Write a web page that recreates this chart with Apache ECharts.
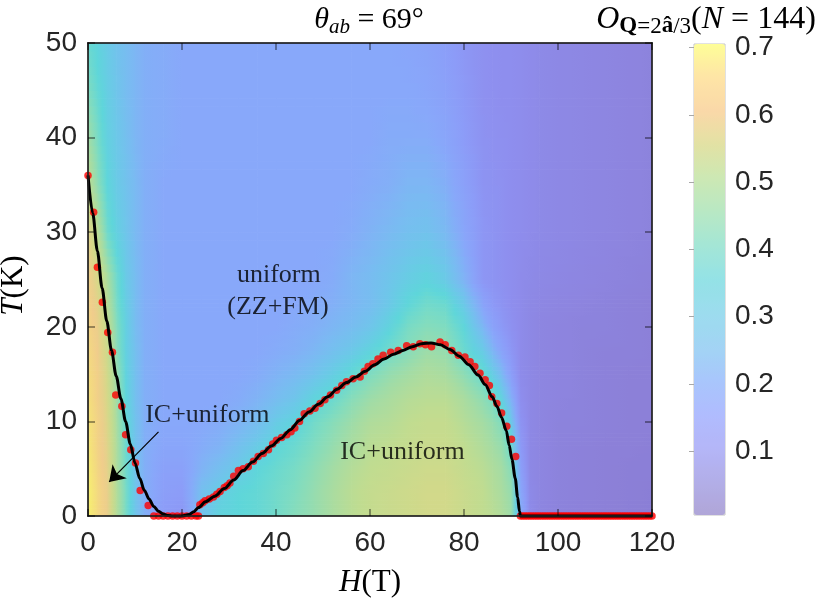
<!DOCTYPE html>
<html>
<head>
<meta charset="utf-8">
<title>theta_ab = 69</title>
<script src="https://cdn.jsdelivr.net/npm/echarts@6.0.0/dist/echarts.min.js"></script>
<style>
body{margin:0;background:#fff;}
#main{width:830px;height:606px;}
</style>
</head>
<body>
<div id="main"></div>
<script>
/* order parameter O(H,T) at these nodes */
var gridH = [0,2,4,6,8,10,12,16,20,24,28,32,36,40,44,48,52,56,60,64,68,72,76,80,84,86,88,90,92,94,96,100,105,110,115,120];
var gridT = [0,2.5,5,7.5,10,12.5,15,17.5,20,22.5,25,30,35,40,45,50];
var orderO = [
	[0.70,0.64,0.59,0.48,0.39,0.29,0.22, 0.15,0.13,0.27,0.34,0.35,0.36,0.38,0.41,0.43,0.46,0.49,0.51,0.52,0.53,0.54,0.54,0.52,0.50, 0.49,0.47,0.44,0.22,0.09,0.07, 0.06,0.055,0.05,0.045,0.04],
	[0.70,0.64,0.59,0.48,0.39,0.29,0.22, 0.16,0.15,0.27,0.32,0.35,0.36,0.38,0.40,0.43,0.46,0.49,0.51,0.52,0.53,0.54,0.54,0.52,0.50, 0.48,0.46,0.43,0.20,0.085,0.07, 0.06,0.055,0.05,0.045,0.04],
	[0.69,0.63,0.58,0.47,0.38,0.28,0.22, 0.17,0.17,0.23,0.27,0.31,0.35,0.37,0.39,0.42,0.45,0.48,0.50,0.51,0.52,0.53,0.53,0.51,0.49, 0.47,0.45,0.41,0.17,0.08,0.07, 0.06,0.055,0.05,0.045,0.045],
	[0.68,0.62,0.57,0.47,0.37,0.28,0.22, 0.19,0.19,0.21,0.23,0.27,0.31,0.35,0.37,0.40,0.43,0.46,0.49,0.50,0.51,0.52,0.52,0.50,0.47, 0.45,0.43,0.37,0.14,0.08,0.07, 0.06,0.055,0.05,0.05,0.045],
	[0.67,0.62,0.56,0.46,0.36,0.28,0.22, 0.20,0.20,0.20,0.21,0.23,0.26,0.31,0.34,0.38,0.41,0.44,0.47,0.48,0.50,0.51,0.51,0.48,0.45, 0.43,0.40,0.30,0.12,0.08,0.07, 0.06,0.06,0.055,0.05,0.05],
	[0.66,0.61,0.55,0.45,0.35,0.27,0.22, 0.20,0.20,0.20,0.20,0.21,0.23,0.26,0.29,0.34,0.37,0.41,0.44,0.46,0.48,0.49,0.49,0.46,0.42, 0.39,0.33,0.22,0.10,0.08,0.07, 0.065,0.06,0.055,0.05,0.05],
	[0.65,0.61,0.54,0.44,0.34,0.27,0.22, 0.20,0.20,0.20,0.20,0.20,0.21,0.23,0.25,0.28,0.32,0.36,0.40,0.43,0.45,0.47,0.46,0.42,0.37, 0.32,0.25,0.16,0.09,0.08,0.07, 0.065,0.06,0.055,0.05,0.05],
	[0.64,0.60,0.53,0.42,0.33,0.27,0.22, 0.20,0.20,0.20,0.20,0.20,0.20,0.21,0.22,0.24,0.27,0.30,0.34,0.38,0.41,0.44,0.43,0.37,0.31, 0.24,0.18,0.13,0.09,0.08,0.07, 0.065,0.06,0.055,0.055,0.05],
	[0.63,0.59,0.51,0.41,0.33,0.26,0.22, 0.20,0.20,0.20,0.20,0.20,0.20,0.20,0.21,0.22,0.24,0.26,0.29,0.34,0.39,0.41,0.40,0.35,0.24, 0.18,0.14,0.11,0.09,0.08,0.07, 0.065,0.06,0.06,0.055,0.05],
	[0.62,0.57,0.49,0.39,0.32,0.26,0.22, 0.20,0.20,0.20,0.20,0.20,0.20,0.20,0.20,0.21,0.22,0.24,0.26,0.30,0.35,0.38,0.37,0.30,0.18, 0.14,0.12,0.10,0.09,0.08,0.075, 0.07,0.065,0.06,0.055,0.05],
	[0.61,0.55,0.47,0.38,0.31,0.26,0.22, 0.20,0.20,0.20,0.20,0.20,0.20,0.20,0.20,0.20,0.21,0.24,0.26,0.29,0.32,0.34,0.31,0.23,0.13, 0.12,0.11,0.10,0.09,0.085,0.08, 0.075,0.07,0.065,0.06,0.055],
	[0.57,0.49,0.38,0.33,0.29,0.25,0.22, 0.20,0.20,0.20,0.20,0.20,0.20,0.20,0.20,0.20,0.20,0.21,0.23,0.25,0.27,0.28,0.25,0.19,0.13, 0.12,0.11,0.10,0.095,0.09,0.085, 0.08,0.075,0.07,0.065,0.06],
	[0.50,0.42,0.35,0.31,0.28,0.25,0.22, 0.20,0.20,0.20,0.20,0.20,0.20,0.20,0.20,0.20,0.20,0.20,0.21,0.22,0.24,0.24,0.22,0.17,0.12, 0.115,0.11,0.10,0.095,0.09,0.085, 0.08,0.075,0.07,0.065,0.06],
	[0.45,0.39,0.33,0.30,0.27,0.24,0.22, 0.21,0.20,0.20,0.20,0.20,0.20,0.20,0.20,0.20,0.20,0.20,0.20,0.21,0.21,0.21,0.19,0.15,0.115, 0.11,0.105,0.10,0.095,0.09,0.085, 0.08,0.075,0.07,0.065,0.06],
	[0.40,0.36,0.32,0.29,0.26,0.24,0.22, 0.21,0.20,0.20,0.20,0.20,0.20,0.20,0.20,0.20,0.20,0.20,0.20,0.20,0.20,0.19,0.17,0.14,0.11, 0.105,0.10,0.10,0.095,0.09,0.085, 0.08,0.075,0.07,0.065,0.06],
	[0.37,0.34,0.31,0.28,0.26,0.24,0.22, 0.21,0.20,0.20,0.20,0.20,0.20,0.20,0.20,0.20,0.20,0.20,0.20,0.20,0.19,0.18,0.16,0.13,0.11, 0.105,0.10,0.10,0.095,0.09,0.085, 0.08,0.075,0.07,0.065,0.06]
];

/* red dots: transition points */
var dotsLeft = [[0,36],[1.2,32.1],[2.0,26.3],[3.05,22.6],[4.2,19.4],[5.2,17.3],[5.9,12.8],[7.2,11.6],[8.0,8.6],[9.1,7.0],[10.1,5.6],[11.1,2.7],[12.8,1.1]];
var dotsZeroLowH = [14,15,16,17,18,19,20,21,22,23,23.5];
var dotsRight = [[23.8,1.2],[24.4,1.4],[24.9,1.6],[25.8,1.8],[26.7,2.0],[27.4,2.3],[28.1,2.6],[29.0,3.0],[29.6,3.2],[30.2,3.5],[31.0,4.2],[32.0,4.8],[33.0,5.0],[34.1,5.2],[35.2,5.8],[36.2,6.3],[37.3,6.6],[38.4,7.0],[39.3,7.6],[40.1,8.0],[41.2,8.3],[42.3,8.6],[43.2,8.9],[44.0,9.3],[45.0,10.0],[46.0,10.8],[47.2,11.1],[48.3,11.4],[49.4,11.9],[50.4,12.3],[51.6,12.8],[52.9,13.3],[54.0,13.8],[55.0,14.2],[56.4,14.5],[57.9,14.7],[58.8,15.3],[59.6,15.8],[60.6,16.1],[61.7,16.6],[62.8,17.0],[64.4,17.3],[66.0,17.5],[67.8,18.0],[69.2,17.9],[70.6,18.2],[71.8,18.1],[73.1,17.9],[74.9,18.4],[76.0,18.1],[77.4,17.5],[78.8,17.0],[80.2,16.8],[81.3,16.3],[82.3,15.8],[83.4,15.1],[84.5,14.4],[85.4,13.8],[85.9,12.6],[87.0,11.9],[88.0,10.9],[89.1,9.5],[90.1,8.1],[91.0,6.3]];
var dotsZeroHighH = [92,92.5,93,93.5,94,94.5,95,95.5,96,96.5,97,97.5,98,98.5,99,99.5,100,100.5,101,101.5,102,102.5,103,103.5,104,104.5,105,105.5,106,106.5,107,107.5,108,108.5,109,109.5,110,110.5,111,111.5,112,112.5,113,113.5,114,114.5,115,115.5,116,116.5,117,117.5,118,118.5,119,119.5,120];

/* black phase boundary */
var boundaryLine = [[0,36],[1,32],[2,28],[3,24.1],[4,20.6],[5,17.5],[6,14.8],[7,12.4],[8,10.0],[9,7.6],[10,5.6],[11,4.0],[12,2.7],[13,1.8],[14,1.0],[15,0.5],[16,0.2],[17,0.06],[18,0],[20,0],[21.5,0.15],[22.5,0.45],[23.5,0.9],[25,1.5],[27,2.1],[29,2.9],[31,3.8],[33,4.8],[35,5.7],[37,6.6],[39,7.4],[41,8.2],[43,9.1],[45,10.1],[47,11.0],[49,11.8],[51,12.6],[53,13.4],[55,14.1],[57,14.7],[59,15.3],[61,16.0],[63,16.6],[65,17.1],[67,17.5],[69,17.9],[71,18.2],[73,18.3],[75,18.1],[77,17.6],[79,16.9],[81,16.0],[83,14.9],[84.5,13.9],[86,12.6],[87,11.6],[88,10.4],[89,9.0],[89.6,7.5],[90.2,6.0],[90.9,4.0],[91.4,2.0],[91.8,0.5],[92,0],[120,0]];

/* text in the plot */
var annoText = ['uniform','(ZZ+FM)','IC+uniform','IC+uniform'];
var annoH = [40.6,40.4,25.4,66.9];
var annoT = [25.5,22.1,10.7,6.8];
var arrowFrom = [15,8.9];
var arrowTo = [4.5,3.6];

/* colorbar ticks */
var cbTicks = [0.1,0.2,0.3,0.4,0.5,0.6,0.7];

/* colours of the plot (more opaque than the colour bar) */
var plotStops = [
	[0.00,132,118,204],[0.05,140,128,216],[0.10,142,142,238],[0.15,140,156,248],
	[0.20,136,168,250],[0.25,122,186,242],[0.30,108,200,232],[0.35,94,214,218],
	[0.40,128,220,192],[0.45,164,220,164],[0.50,192,220,144],[0.55,214,216,136],
	[0.60,240,204,140],[0.65,244,220,126],[0.70,246,240,112]
];
var barColors = ['#b0a6d8','#b2aee8','#b4b6f8','#b0bcfe','#a8c6fc','#a2d4f4','#9cdcee','#94e2e6','#a4e6d6','#b8e8c4','#cce8b4','#e2e2a4','#fad8a8','#fee4a6','#fefe98'];

function plotColor(v) {
	var s = plotStops;
	if(v <= s[0][0]) {
		return 'rgb(' + s[0][1] + ',' + s[0][2] + ',' + s[0][3] + ')';
	}
	for(var k = 1; k < s.length; k++) {
		if(v <= s[k][0]) {
			var a = s[k - 1], b = s[k];
			var f = (v - a[0]) / (b[0] - a[0]);
			return 'rgb(' + Math.round(a[1] + (b[1] - a[1]) * f) + ',' + Math.round(a[2] + (b[2] - a[2]) * f) + ',' + Math.round(a[3] + (b[3] - a[3]) * f) + ')';
		}
	}
	var l = s[s.length - 1];
	return 'rgb(' + l[1] + ',' + l[2] + ',' + l[3] + ')';
}

// one cell between four nodes, drawn in thin bands (shading interp)
var BANDS = 6;
function renderCell(params, api) {
	var i = api.value(3), j = api.value(4);
	var h0 = gridH[i], h1 = gridH[i + 1], t0 = gridT[j], t1 = gridT[j + 1];
	var v00 = orderO[j][i], v10 = orderO[j][i + 1], v01 = orderO[j + 1][i], v11 = orderO[j + 1][i + 1];
	var children = [];
	for(var k = 0; k < BANDS; k++) {
		var fm = (k + 0.5) / BANDS;
		var ta = t0 + (t1 - t0) * k / BANDS, tb = t0 + (t1 - t0) * (k + 1) / BANDS;
		var p0 = api.coord([h0, tb]), p1 = api.coord([h1, ta]);
		var vl = v00 + (v01 - v00) * fm, vr = v10 + (v11 - v10) * fm;
		children.push({
			type: 'rect',
			shape: {x: p0[0], y: p0[1], width: p1[0] - p0[0] + 0.7, height: p1[1] - p0[1] + 0.7},
			style: {
				fill: new echarts.graphic.LinearGradient(0, 0, 1, 0, [
					{offset: 0, color: plotColor(vl)},
					{offset: 0.5, color: plotColor((vl + vr) / 2)},
					{offset: 1, color: plotColor(vr)}
				])
			}
		});
	}
	return {type: 'group', children: children};
}

var cells = [];
for(var j = 0; j < gridT.length - 1; j++) {
	for(var i = 0; i < gridH.length - 1; i++) {
		cells.push([gridH[i], gridT[j], orderO[j][i], i, j]);
	}
}
var dots = dotsLeft.concat(dotsZeroLowH.map(function(h) { return [h, 0]; }), dotsRight, dotsZeroHighH.map(function(h) { return [h, 0]; }));
var annoData = annoText.map(function(t, k) { return {name: t, value: [annoH[k], annoT[k]]}; });

var sans = "'Liberation Sans', Arial, sans-serif";
var serif = "'Liberation Serif', 'Times New Roman', serif";
var frame = {show: true, onZero: false, lineStyle: {color: 'rgba(30,30,30,0.85)', width: 2}};
var tick = {show: true, inside: true, length: 7, lineStyle: {color: 'rgba(0,0,0,0.5)', width: 1.5}};
var mathRich = {
	i: {fontFamily: serif, fontStyle: 'italic', fontSize: 31, color: '#000', lineHeight: 36},
	n: {fontFamily: serif, fontSize: 31, color: '#000', lineHeight: 36}
};

var myChart = echarts.init(document.getElementById('main'));
option = {
	animation: false,
	backgroundColor: '#fff',
	grid: [
		{left: 88, top: 43, width: 564, height: 473, outerBoundsMode: 'none', containLabel: false},
		{left: 694, top: 44, width: 31, height: 471, outerBoundsMode: 'none', containLabel: false, show: true, borderColor: '#c4c4c4', borderWidth: 1, backgroundColor: 'transparent'}
	],
	xAxis: [{
		type: 'value', gridIndex: 0, min: 0, max: 120, interval: 20, position: 'bottom', z: 10,
		axisLine: frame, axisTick: tick, splitLine: {show: false},
		axisLabel: {fontFamily: sans, fontSize: 28, color: '#262626', margin: 13},
		name: '{i|H}{n|(T)}', nameLocation: 'middle', nameGap: 49,
		nameTextStyle: {rich: mathRich}
	}, {
		type: 'value', gridIndex: 0, min: 0, max: 120, interval: 20, position: 'top', z: 10,
		axisLine: frame, axisTick: tick, axisLabel: {show: false}, splitLine: {show: false}
	}, {
		type: 'value', gridIndex: 1, min: 0, max: 1, show: false
	}],
	yAxis: [{
		type: 'value', gridIndex: 0, min: 0, max: 50, interval: 10, position: 'left', z: 10,
		axisLine: frame, axisTick: tick, splitLine: {show: false},
		axisLabel: {fontFamily: sans, fontSize: 28, color: '#262626', margin: 11},
		name: '{i|T}{n|(K)}', nameLocation: 'middle', nameGap: 56, nameRotate: 90,
		nameTextStyle: {rich: mathRich, padding: [0, 12, 0, 0]}
	}, {
		type: 'value', gridIndex: 0, min: 0, max: 50, interval: 10, position: 'right', z: 10,
		axisLine: frame, axisTick: tick, axisLabel: {show: false}, splitLine: {show: false}
	}, {
		type: 'value', gridIndex: 1, min: 0.005, max: 0.7055, position: 'right', z: 10,
		axisLine: {show: false}, splitLine: {show: false},
		axisTick: {show: true, inside: true, length: 5, customValues: cbTicks, lineStyle: {color: '#a8a8a8', width: 1}},
		axisLabel: {fontFamily: sans, fontSize: 28, color: '#262626', margin: 10, customValues: cbTicks}
	}],
	visualMap: {
		type: 'continuous', min: 0.005, max: 0.7055, seriesIndex: 0, dimension: 2,
		calculable: false, orient: 'vertical', left: 694, top: 44, padding: 0,
		itemWidth: 31, itemHeight: 471, text: null, hoverLink: false,
		inRange: {color: barColors}
	},
	graphic: [{
		type: 'text', x: 369, y: 20, z: 20,
		style: {
			text: '{i|θ}{sub|ab}{n| = 69°}', align: 'center', verticalAlign: 'middle',
			rich: {
				i: {fontFamily: serif, fontStyle: 'italic', fontSize: 30, lineHeight: 36, verticalAlign: 'middle', fill: '#000'},
				sub: {fontFamily: serif, fontStyle: 'italic', fontSize: 21, lineHeight: 20, verticalAlign: 'bottom', fill: '#000'},
				n: {fontFamily: serif, fontSize: 30, lineHeight: 36, verticalAlign: 'middle', fill: '#000'}
			}
		}
	}, {
		type: 'text', x: 706, y: 20, z: 20,
		style: {
			text: '{o|O}{sb|Q}{s|=2}{sb|â}{s|/3}{n|(}{i|N}{n| = 144)}', align: 'center', verticalAlign: 'middle',
			rich: {
				o: {fontFamily: serif, fontStyle: 'italic', fontSize: 32, lineHeight: 36, verticalAlign: 'middle', fill: '#000'},
				sb: {fontFamily: serif, fontWeight: 'bold', fontSize: 23, lineHeight: 20, verticalAlign: 'bottom', fill: '#000'},
				s: {fontFamily: serif, fontSize: 23, lineHeight: 20, verticalAlign: 'bottom', fill: '#000'},
				i: {fontFamily: serif, fontStyle: 'italic', fontSize: 32, lineHeight: 36, verticalAlign: 'middle', fill: '#000'},
				n: {fontFamily: serif, fontSize: 32, lineHeight: 36, verticalAlign: 'middle', fill: '#000'}
			}
		}
	}],
	series: [{
		type: 'custom', name: 'O', xAxisIndex: 0, yAxisIndex: 0, z: 1, clip: true,
		renderItem: renderCell, data: cells, silent: true
	}, {
		type: 'scatter', name: 'points', xAxisIndex: 0, yAxisIndex: 0, z: 3, clip: false,
		symbol: 'circle', symbolSize: 7.5, itemStyle: {color: '#ff0000'},
		data: dots
	}, {
		type: 'line', name: 'boundary', xAxisIndex: 0, yAxisIndex: 0, z: 4, clip: false,
		showSymbol: false, smooth: 0.3, smoothMonotone: 'x',
		lineStyle: {color: '#000', width: 3},
		data: boundaryLine
	}, {
		type: 'lines', coordinateSystem: 'cartesian2d', xAxisIndex: 0, yAxisIndex: 0, z: 5,
		symbol: ['none', 'arrow'], symbolSize: 15,
		lineStyle: {color: '#000', width: 1.2, opacity: 1},
		data: [{coords: [arrowFrom, arrowTo]}]
	}, {
		type: 'scatter', name: 'labels', xAxisIndex: 0, yAxisIndex: 0, z: 6,
		symbolSize: 0, silent: true,
		label: {show: true, position: 'inside', formatter: '{b}', fontFamily: serif, fontSize: 26, color: '#000'},
		data: annoData
	}]
};
myChart.setOption(option);
</script>
</body>
</html>
